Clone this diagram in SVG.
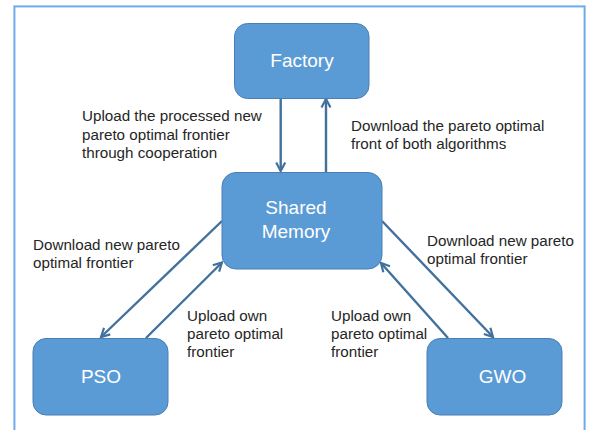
<svg xmlns="http://www.w3.org/2000/svg" width="590" height="430" viewBox="0 0 590 430">
  <defs>
    <style>
      .box { fill: #5b9bd5; stroke: #4a7fb5; stroke-width: 1; }
      .blabel { font-family: "Liberation Sans", Arial, sans-serif; font-size: 19px; fill: #ffffff; text-anchor: middle; }
      .elabel { font-family: "Liberation Sans", Arial, sans-serif; font-size: 15.2px; fill: #262626; }
      .conn { stroke: #41719c; stroke-width: 2.4; fill: none; marker-end: url(#arr); }
    </style>
    <marker id="arr" viewBox="0 0 12 12" refX="10.5" refY="6" markerWidth="12" markerHeight="12" markerUnits="userSpaceOnUse" orient="auto">
      <path d="M2,1.5 L10.5,6 L2,10.5" fill="none" stroke="#41719c" stroke-width="2.2" stroke-linejoin="miter"/>
    </marker>
  </defs>
  <rect x="0" y="0" width="590" height="430" fill="#ffffff"/>
  <rect x="13.5" y="5.5" width="572" height="440" fill="none" stroke="#dde3ea" stroke-width="1"/>
  <rect x="14.5" y="6.5" width="570" height="440" fill="none" stroke="#6aaaf0" stroke-width="1.8"/>

  <g id="connectors">
    <line class="conn" x1="280.7" y1="98" x2="280.7" y2="171"/>
    <line class="conn" x1="326" y1="172" x2="326" y2="99"/>
    <line class="conn" x1="222" y1="221" x2="101" y2="337"/>
    <line class="conn" x1="146" y1="338" x2="222" y2="262.5"/>
    <line class="conn" x1="382" y1="221" x2="493" y2="337"/>
    <line class="conn" x1="448" y1="338" x2="381" y2="263"/>
  </g>

  <g id="factory">
    <rect class="box" x="234.5" y="23.5" width="134.5" height="75" rx="13"/>
    <text class="blabel" x="302" y="67">Factory</text>
  </g>
  <g id="shared-memory">
    <rect class="box" x="222" y="172.5" width="160" height="96.5" rx="14"/>
    <text class="blabel" x="296" y="214">Shared</text>
    <text class="blabel" x="296" y="238">Memory</text>
  </g>
  <g id="pso">
    <rect class="box" x="33" y="338.5" width="135" height="76.5" rx="13"/>
    <text class="blabel" x="101" y="383">PSO</text>
  </g>
  <g id="gwo">
    <rect class="box" x="427" y="338.5" width="135" height="76.5" rx="13"/>
    <text class="blabel" x="502.5" y="383">GWO</text>
  </g>

  <g id="labels">
    <text class="elabel" x="82" y="121">Upload the processed new</text>
    <text class="elabel" x="82" y="139.5">pareto optimal frontier</text>
    <text class="elabel" x="82" y="158">through cooperation</text>

    <text class="elabel" x="351" y="131">Download the pareto optimal</text>
    <text class="elabel" x="351" y="149">front of both algorithms</text>

    <text class="elabel" x="33" y="250">Download new pareto</text>
    <text class="elabel" x="33" y="268">optimal frontier</text>

    <text class="elabel" x="427" y="246">Download new pareto</text>
    <text class="elabel" x="427" y="264">optimal frontier</text>

    <text class="elabel" x="187" y="321">Upload own</text>
    <text class="elabel" x="187" y="339">pareto optimal</text>
    <text class="elabel" x="187" y="357">frontier</text>

    <text class="elabel" x="331" y="321">Upload own</text>
    <text class="elabel" x="331" y="339">pareto optimal</text>
    <text class="elabel" x="331" y="357">frontier</text>
  </g>
</svg>
